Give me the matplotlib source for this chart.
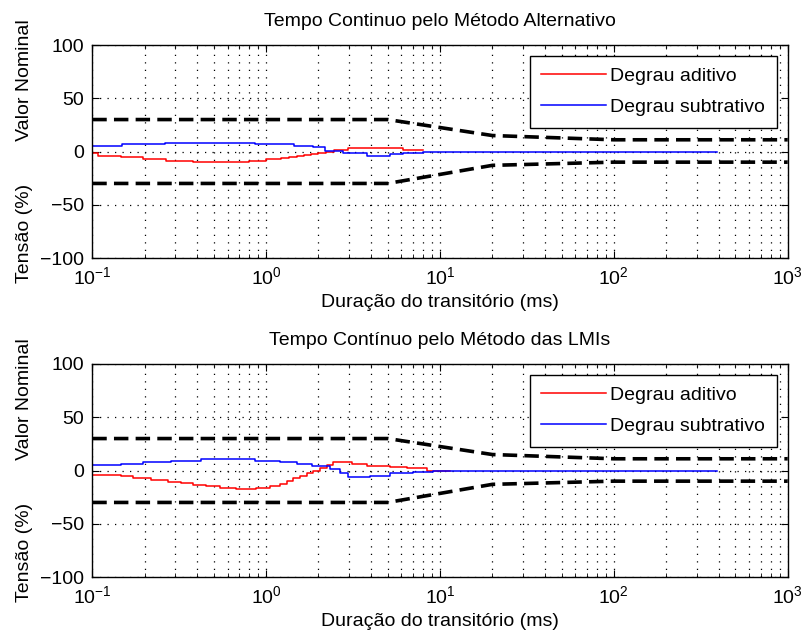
import matplotlib
matplotlib.use("Agg")
import matplotlib.pyplot as plt
from matplotlib.ticker import LogLocator, NullFormatter

plt.rcParams['font.family'] = ['Liberation Sans', 'DejaVu Sans']

# ---- data ----
titles = ["Tempo Continuo pelo Método Alternativo",
          "Tempo Contínuo pelo Método das LMIs"]
xlabel = "Duração do transitório (ms)"
ylabel = "Tensão (%)" + " " * 8 + "Valor Nominal"
legend_labels = ["Degrau aditivo", "Degrau subtrativo"]

env_x = [0.1, 5, 20, 100, 1000]
env_upper = [30, 30, 15, 11, 11]
env_lower = [-30, -30, -13, -10, -10]

# top panel (steps)
top_red_x = [0.1, 0.108, 0.147, 0.196, 0.267, 0.38, 0.80, 1.0, 1.22, 1.35, 1.5,
             1.65, 1.8, 2.0, 2.2, 2.45, 2.97, 6.15, 8.0]
top_red_y = [-1.5, -3.8, -5.6, -7.2, -8.5, -10.0, -8.5, -7.2, -6.0, -5.0, -4.0,
             -3.0, -2.0, -1.0, 0.0, 1.5, 3.1, 1.6, 1.6]
top_blue_x = [0.1, 0.149, 0.263, 0.865, 1.44, 1.87, 2.18, 2.78, 3.79, 5.15, 6.15, 8.0, 390]
top_blue_y = [5.0, 6.7, 8.3, 6.7, 5.3, 3.8, 0.9, -1.6, -3.8, -2.5, -1.0, 0.0, 0.0]

# bottom panel (steps)
bot_red_x = [0.1, 0.147, 0.171, 0.218, 0.272, 0.325, 0.38, 0.452, 0.54, 0.673, 0.878,
             1.05, 1.2, 1.31, 1.43, 1.56, 1.71, 1.87, 2.04, 2.23, 2.43, 3.10, 3.79,
             5.15, 6.43, 8.38, 11.4]
bot_red_y = [-3.9, -5.2, -7.0, -8.9, -10.5, -11.7, -13.3, -14.9, -16.4, -17.7, -16.1,
             -14.6, -12.7, -10.0, -7.5, -5.0, -2.5, 0.0, 2.5, 5.0, 8.0, 6.1, 4.2,
             3.6, 2.0, -0.8, -0.8]
bot_blue_x = [0.1, 0.147, 0.196, 0.285, 0.424, 0.859, 1.20, 1.50, 1.83, 2.33, 2.66,
              2.97, 3.96, 5.15, 7.03, 9.16, 390]
bot_blue_y = [5.2, 6.4, 8.0, 9.2, 10.8, 9.2, 7.7, 6.1, 4.2, 1.1, -2.7, -6.4, -4.9,
              -2.7, -1.1, 0.0, 0.0]

panels = [(top_red_x, top_red_y, top_blue_x, top_blue_y),
          (bot_red_x, bot_red_y, bot_blue_x, bot_blue_y)]

W, H = 803, 642
fig = plt.figure(figsize=(W / 100, H / 100), dpi=100)
left, right = 92.3, 787.7
rects = [(45, 258), (364, 577)]

FS = 14
GRID = dict(color='black', linestyle=(0, (1, 5)), linewidth=0.9)
for i, (rx, ry, bx, by) in enumerate(panels):
    top, bot = rects[i]
    ax = fig.add_axes([left / W, (H - bot) / H, (right - left) / W, (bot - top) / H])
    ax.set_xscale('log')
    ax.set_xlim(0.1, 1000)
    ax.set_ylim(-100, 100)
    ax.set_yticks([-100, -50, 0, 50, 100])
    ax.xaxis.set_major_locator(LogLocator(base=10, numticks=10))
    ax.xaxis.set_minor_locator(LogLocator(base=10, subs=range(2, 10), numticks=20))
    ax.xaxis.set_minor_formatter(NullFormatter())
    ax.grid(True, which='major', axis='both', **GRID)
    ax.grid(True, which='minor', axis='x', **GRID)
    ax.tick_params(which='both', direction='in', top=True, right=True, labelsize=FS, pad=6)
    ax.tick_params(which='major', length=5)
    ax.tick_params(which='minor', length=3)
    for s in ax.spines.values():
        s.set_linewidth(1.0)

    ax.plot(env_x, env_upper, color='black', linewidth=2.6, dashes=(4, 2))
    ax.plot(env_x, env_lower, color='black', linewidth=2.6, dashes=(4, 2))
    l1, = ax.plot(rx, ry, color='red', linewidth=1.1, drawstyle='steps-post')
    l2, = ax.plot(bx, by, color='blue', linewidth=1.1, drawstyle='steps-post')

    ax.set_title(titles[i], fontsize=FS, pad=14)
    ax.set_xlabel(xlabel, fontsize=FS, labelpad=4)
    ax.set_ylabel(ylabel, fontsize=FS)
    ax.yaxis.set_label_coords(-0.085, 0.5)

    leg = ax.legend([l1, l2], legend_labels, loc='upper right', fontsize=FS,
                    handlelength=3.3, handletextpad=0.25, borderpad=0.6,
                    labelspacing=0.7, borderaxespad=0.55, fancybox=False,
                    framealpha=1, edgecolor='black')
    leg.get_frame().set_linewidth(1.0)

fig.savefig("out.png", dpi=100)
